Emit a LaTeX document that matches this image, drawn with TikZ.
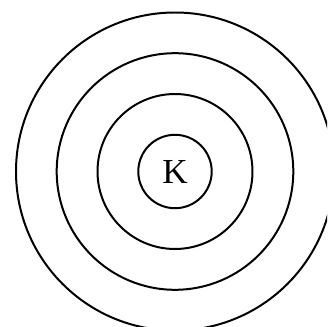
\documentclass[tikz,border=0pt]{standalone}
\usepackage{fontspec}
\setmainfont{Liberation Serif}
\usepackage{tikz}
\usetikzlibrary{positioning}

\begin{document}
\begin{tikzpicture}[
  x=0.03cm, y=0.03cm,
  ring/.style={draw, line width=1.7pt},
  core/.style={ring, circle, inner sep=0pt, minimum size=73.4*0.03cm, font=\fontsize{30}{32}\selectfont}
]
\useasboundingbox (0,0) rectangle (327,327);
\clip (0,0) rectangle (327,327);
\coordinate (c) at (175,155.5);
\node[core] (k) at (c) {K};
% shells around the core
\foreach \r in {77.5,118.3,159}
  \draw[ring] (k.center) circle (\r);
\end{tikzpicture}
\end{document}
